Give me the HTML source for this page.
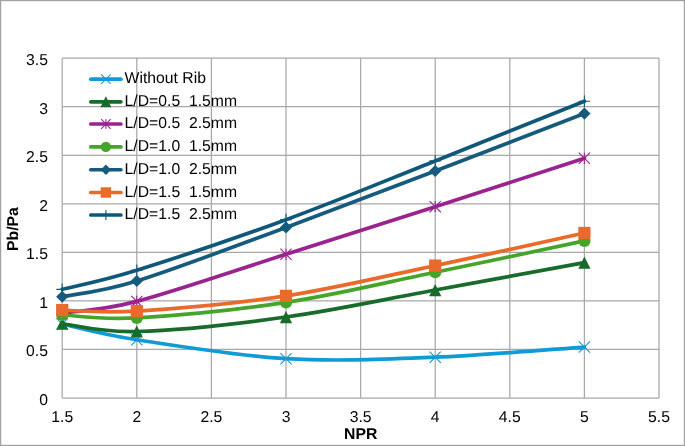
<!DOCTYPE html>
<html><head><meta charset="utf-8"><title>Chart</title>
<style>
html,body{margin:0;padding:0;background:#fff;}
body{width:685px;height:446px;overflow:hidden;}
svg{display:block;will-change:transform;}
text{font-family:"Liberation Sans", sans-serif;fill:#000;}
</style></head><body>
<svg width="685" height="446" viewBox="0 0 685 446">
<rect x="0" y="0" width="685" height="446" fill="#fff"/>
<rect x="0.6" y="0.6" width="683.8" height="444.8" fill="none" stroke="#a2a2a2" stroke-width="1.2"/>

<path d="M62.20,58.20V398.00M136.80,58.20V398.00M211.40,58.20V398.00M286.00,58.20V398.00M360.60,58.20V398.00M435.20,58.20V398.00M509.80,58.20V398.00M584.40,58.20V398.00M659.00,58.20V398.00M62.20,398.00H659.00M62.20,349.46H659.00M62.20,300.91H659.00M62.20,252.37H659.00M62.20,203.83H659.00M62.20,155.29H659.00M62.20,106.74H659.00M62.20,58.20H659.00" stroke="#a8a8a8" stroke-width="1.25" fill="none"/>
<text transform="translate(48.00,405.00) skewX(0.06)" font-size="15.75" text-anchor="end">0</text>
<text transform="translate(48.00,356.46) skewX(0.06)" font-size="15.75" text-anchor="end">0.5</text>
<text transform="translate(48.00,307.91) skewX(0.06)" font-size="15.75" text-anchor="end">1</text>
<text transform="translate(48.00,259.37) skewX(0.06)" font-size="15.75" text-anchor="end">1.5</text>
<text transform="translate(48.00,210.83) skewX(0.06)" font-size="15.75" text-anchor="end">2</text>
<text transform="translate(48.00,162.29) skewX(0.06)" font-size="15.75" text-anchor="end">2.5</text>
<text transform="translate(48.00,113.74) skewX(0.06)" font-size="15.75" text-anchor="end">3</text>
<text transform="translate(48.00,65.20) skewX(0.06)" font-size="15.75" text-anchor="end">3.5</text>
<text transform="translate(62.20,422.20) skewX(0.06)" font-size="15.75" text-anchor="middle">1.5</text>
<text transform="translate(136.80,422.20) skewX(0.06)" font-size="15.75" text-anchor="middle">2</text>
<text transform="translate(211.40,422.20) skewX(0.06)" font-size="15.75" text-anchor="middle">2.5</text>
<text transform="translate(286.00,422.20) skewX(0.06)" font-size="15.75" text-anchor="middle">3</text>
<text transform="translate(360.60,422.20) skewX(0.06)" font-size="15.75" text-anchor="middle">3.5</text>
<text transform="translate(435.20,422.20) skewX(0.06)" font-size="15.75" text-anchor="middle">4</text>
<text transform="translate(509.80,422.20) skewX(0.06)" font-size="15.75" text-anchor="middle">4.5</text>
<text transform="translate(584.40,422.20) skewX(0.06)" font-size="15.75" text-anchor="middle">5</text>
<text transform="translate(659.00,422.20) skewX(0.06)" font-size="15.75" text-anchor="middle">5.5</text>
<text transform="translate(360.7,439) skewX(0.06)" font-size="15.75" font-weight="bold" text-anchor="middle">NPR</text>
<text transform="translate(18,229.0) rotate(-90) skewX(0.06)" font-size="15.75" font-weight="bold" text-anchor="middle">Pb/Pa</text>
<path d="M62.20,324.02 C74.63,326.64 99.50,333.97 136.80,339.75 C174.10,345.53 236.27,355.77 286.00,358.68 C335.73,361.59 385.47,359.17 435.20,357.22 C484.93,355.28 559.53,348.73 584.40,347.03" stroke="#109BD7" stroke-width="3.70" fill="none" stroke-linecap="round" stroke-linejoin="round"/>
<path d="M56.59,318.41 L67.81,329.63 M56.59,329.63 L67.81,318.41" stroke="#109BD7" stroke-width="1.1" fill="none"/>
<path d="M131.19,334.14 L142.41,345.36 M131.19,345.36 L142.41,334.14" stroke="#109BD7" stroke-width="1.1" fill="none"/>
<path d="M280.39,353.07 L291.61,364.29 M280.39,364.29 L291.61,353.07" stroke="#109BD7" stroke-width="1.1" fill="none"/>
<path d="M429.59,351.61 L440.81,362.84 M429.59,362.84 L440.81,351.61" stroke="#109BD7" stroke-width="1.1" fill="none"/>
<path d="M578.79,341.42 L590.01,352.64 M578.79,352.64 L590.01,341.42" stroke="#109BD7" stroke-width="1.1" fill="none"/>
<path d="M62.20,323.73 C74.63,325.02 99.50,332.61 136.80,331.50 C174.10,330.38 236.27,323.94 286.00,317.03 C335.73,310.12 385.47,299.12 435.20,290.04 C484.93,280.96 559.53,267.14 584.40,262.57" stroke="#186B2A" stroke-width="3.70" fill="none" stroke-linecap="round" stroke-linejoin="round"/>
<path d="M62.20,317.63 L68.30,329.83 L56.10,329.83 Z" fill="#186B2A"/>
<path d="M136.80,325.40 L142.90,337.60 L130.70,337.60 Z" fill="#186B2A"/>
<path d="M286.00,310.93 L292.10,323.13 L279.90,323.13 Z" fill="#186B2A"/>
<path d="M435.20,283.94 L441.30,296.14 L429.10,296.14 Z" fill="#186B2A"/>
<path d="M584.40,256.47 L590.50,268.67 L578.30,268.67 Z" fill="#186B2A"/>
<path d="M62.20,313.05 C74.63,311.11 99.50,311.19 136.80,301.40 C174.10,291.61 236.27,270.11 286.00,254.31 C335.73,238.52 385.47,222.65 435.20,206.64 C484.93,190.64 559.53,166.35 584.40,158.30" stroke="#9A2390" stroke-width="3.70" fill="none" stroke-linecap="round" stroke-linejoin="round"/>
<path d="M56.59,307.44 L67.81,318.66 M56.59,318.66 L67.81,307.44 M62.20,307.44 L62.20,318.66" stroke="#9A2390" stroke-width="1.1" fill="none"/>
<path d="M131.19,295.79 L142.41,307.01 M131.19,307.01 L142.41,295.79 M136.80,295.79 L136.80,307.01" stroke="#9A2390" stroke-width="1.1" fill="none"/>
<path d="M280.39,248.70 L291.61,259.93 M280.39,259.93 L291.61,248.70 M286.00,248.70 L286.00,259.93" stroke="#9A2390" stroke-width="1.1" fill="none"/>
<path d="M429.59,201.03 L440.81,212.26 M429.59,212.26 L440.81,201.03 M435.20,201.03 L435.20,212.26" stroke="#9A2390" stroke-width="1.1" fill="none"/>
<path d="M578.79,152.68 L590.01,163.91 M578.79,163.91 L590.01,152.68 M584.40,152.68 L584.40,163.91" stroke="#9A2390" stroke-width="1.1" fill="none"/>
<path d="M62.20,314.99 C74.63,315.48 99.50,320.01 136.80,317.90 C174.10,315.80 236.27,309.98 286.00,302.37 C335.73,294.77 385.47,282.52 435.20,272.27 C484.93,262.03 559.53,246.14 584.40,240.92" stroke="#45A52A" stroke-width="3.70" fill="none" stroke-linecap="round" stroke-linejoin="round"/>
<circle cx="62.20" cy="314.99" r="6.10" fill="#45A52A"/>
<circle cx="136.80" cy="317.90" r="6.10" fill="#45A52A"/>
<circle cx="286.00" cy="302.37" r="6.10" fill="#45A52A"/>
<circle cx="435.20" cy="272.27" r="6.10" fill="#45A52A"/>
<circle cx="584.40" cy="240.92" r="6.10" fill="#45A52A"/>
<path d="M62.20,296.74 C74.63,294.12 99.50,292.56 136.80,281.01 C174.10,269.46 236.27,245.75 286.00,227.42 C335.73,209.09 385.47,189.99 435.20,171.01 C484.93,152.03 559.53,123.12 584.40,113.54" stroke="#165B7E" stroke-width="3.70" fill="none" stroke-linecap="round" stroke-linejoin="round"/>
<path d="M62.20,290.64 L68.30,296.74 L62.20,302.84 L56.10,296.74 Z" fill="#165B7E"/>
<path d="M136.80,274.91 L142.90,281.01 L136.80,287.11 L130.70,281.01 Z" fill="#165B7E"/>
<path d="M286.00,221.32 L292.10,227.42 L286.00,233.52 L279.90,227.42 Z" fill="#165B7E"/>
<path d="M435.20,164.91 L441.30,171.01 L435.20,177.11 L429.10,171.01 Z" fill="#165B7E"/>
<path d="M584.40,107.44 L590.50,113.54 L584.40,119.64 L578.30,113.54 Z" fill="#165B7E"/>
<path d="M62.20,310.14 C74.63,310.30 99.50,313.49 136.80,311.11 C174.10,308.73 236.27,303.45 286.00,295.87 C335.73,288.28 385.47,276.06 435.20,265.58 C484.93,255.09 559.53,238.39 584.40,232.95" stroke="#E96A2A" stroke-width="3.70" fill="none" stroke-linecap="round" stroke-linejoin="round"/>
<rect x="56.10" y="304.04" width="12.20" height="12.20" fill="#E96A2A"/>
<rect x="130.70" y="305.01" width="12.20" height="12.20" fill="#E96A2A"/>
<rect x="279.90" y="289.77" width="12.20" height="12.20" fill="#E96A2A"/>
<rect x="429.10" y="259.48" width="12.20" height="12.20" fill="#E96A2A"/>
<rect x="578.30" y="226.85" width="12.20" height="12.20" fill="#E96A2A"/>
<path d="M62.20,289.36 C74.63,286.17 99.50,281.85 136.80,270.24 C174.10,258.62 236.27,237.87 286.00,219.65 C335.73,201.43 385.47,180.66 435.20,160.92 C484.93,141.18 559.53,111.16 584.40,101.21" stroke="#10587A" stroke-width="3.70" fill="none" stroke-linecap="round" stroke-linejoin="round"/>
<path d="M56.41,289.36 L68.00,289.36 M62.20,283.57 L62.20,295.16" stroke="#10587A" stroke-width="1.1" fill="none"/>
<path d="M131.01,270.24 L142.59,270.24 M136.80,264.44 L136.80,276.03" stroke="#10587A" stroke-width="1.1" fill="none"/>
<path d="M280.20,219.65 L291.80,219.65 M286.00,213.86 L286.00,225.45" stroke="#10587A" stroke-width="1.1" fill="none"/>
<path d="M429.40,160.92 L441.00,160.92 M435.20,155.12 L435.20,166.71" stroke="#10587A" stroke-width="1.1" fill="none"/>
<path d="M578.61,101.21 L590.19,101.21 M584.40,95.41 L584.40,107.00" stroke="#10587A" stroke-width="1.1" fill="none"/>
<path d="M90.8,79.20H120.9" stroke="#109BD7" stroke-width="3.70" stroke-linecap="round"/>
<path d="M101.12,74.42 L110.68,83.98 M101.12,83.98 L110.68,74.42" stroke="#109BD7" stroke-width="1.1" fill="none"/>
<text transform="translate(124.6,83.40) skewX(0.06)" font-size="15.75" xml:space="preserve">Without Rib</text>
<path d="M90.8,101.85H120.9" stroke="#186B2A" stroke-width="3.70" stroke-linecap="round"/>
<path d="M105.90,96.34 L111.41,107.36 L100.39,107.36 Z" fill="#186B2A"/>
<text transform="translate(124.6,106.05) skewX(0.06)" font-size="15.75" xml:space="preserve">L/D=0.5  1.5mm</text>
<path d="M90.8,124.00H120.9" stroke="#9A2390" stroke-width="3.70" stroke-linecap="round"/>
<path d="M101.12,119.22 L110.68,128.78 M101.12,128.78 L110.68,119.22 M105.90,119.22 L105.90,128.78" stroke="#9A2390" stroke-width="1.1" fill="none"/>
<text transform="translate(124.6,128.20) skewX(0.06)" font-size="15.75" xml:space="preserve">L/D=0.5  2.5mm</text>
<path d="M90.8,146.90H120.9" stroke="#45A52A" stroke-width="3.70" stroke-linecap="round"/>
<circle cx="105.90" cy="146.90" r="5.20" fill="#45A52A"/>
<text transform="translate(124.6,151.10) skewX(0.06)" font-size="15.75" xml:space="preserve">L/D=1.0  1.5mm</text>
<path d="M90.8,169.75H120.9" stroke="#165B7E" stroke-width="3.70" stroke-linecap="round"/>
<path d="M105.90,164.55 L111.10,169.75 L105.90,174.95 L100.70,169.75 Z" fill="#165B7E"/>
<text transform="translate(124.6,173.95) skewX(0.06)" font-size="15.75" xml:space="preserve">L/D=1.0  2.5mm</text>
<path d="M90.8,192.50H120.9" stroke="#E96A2A" stroke-width="3.70" stroke-linecap="round"/>
<rect x="100.70" y="187.30" width="10.40" height="10.40" fill="#E96A2A"/>
<text transform="translate(124.6,196.70) skewX(0.06)" font-size="15.75" xml:space="preserve">L/D=1.5  1.5mm</text>
<path d="M90.8,215.00H120.9" stroke="#10587A" stroke-width="3.70" stroke-linecap="round"/>
<path d="M100.96,215.00 L110.84,215.00 M105.90,210.06 L105.90,219.94" stroke="#10587A" stroke-width="1.1" fill="none"/>
<text transform="translate(124.6,219.20) skewX(0.06)" font-size="15.75" xml:space="preserve">L/D=1.5  2.5mm</text>
</svg>
</body></html>
